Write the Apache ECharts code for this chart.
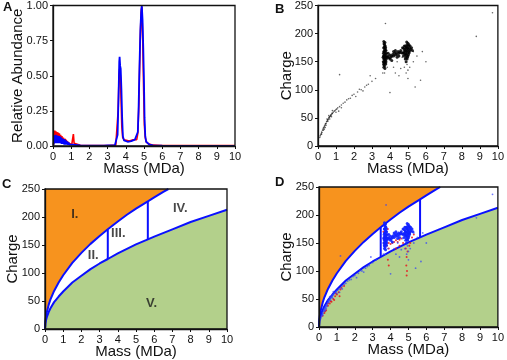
<!DOCTYPE html>
<html><head><meta charset="utf-8">
<script src="https://cdn.jsdelivr.net/npm/echarts@6/dist/echarts.min.js"></script>
<style>html,body{margin:0;padding:0;background:#fff}#c{width:507px;height:360px}</style>
</head><body><div id="c"></div>
<script>
// ---------- DATA ----------
const massTicks = [0,1,2,3,4,5,6,7,8,9,10];
const abundanceTickLabels = ['0.00','0.25','0.50','0.75','1.00'];
const chargeTicks = [0,50,100,150,200,250];

// Panel A: mass spectra (mass MDa, relative abundance)
const spectrumRed = [
 [0.03,0.01],[0.06,0.03],[0.1,0.11],[0.13,0.05],[0.16,0.105],[0.19,0.06],[0.22,0.1],[0.25,0.05],[0.28,0.095],[0.31,0.04],
 [0.35,0.09],[0.38,0.04],[0.42,0.08],[0.45,0.03],[0.49,0.07],[0.53,0.03],[0.57,0.06],[0.61,0.02],[0.65,0.05],[0.7,0.04],
 [0.75,0.035],[0.8,0.03],[0.88,0.02],[0.95,0.01],[1.03,0.01],[1.08,0.02],[1.12,0.085],[1.16,0.02],[1.22,0.006],[1.5,0.005],
 [2.0,0.004],[2.5,0.004],[3.0,0.004],[3.45,0.006],[3.52,0.02],[3.58,0.25],[3.63,0.5],[3.66,0.55],[3.7,0.5],[3.74,0.33],
 [3.78,0.14],[3.83,0.06],[3.9,0.045],[4.0,0.04],[4.2,0.035],[4.4,0.045],[4.6,0.045],[4.66,0.09],[4.72,0.3],[4.78,0.7],
 [4.84,0.95],[4.88,0.99],[4.93,0.75],[4.98,0.4],[5.02,0.15],[5.07,0.06],[5.12,0.03],[5.25,0.015],[5.5,0.006],[6.0,0.004],
 [7.0,0.003],[8.0,0.003],[9.0,0.003],[10.0,0.003]
];
const spectrumBlue = [
 [0.03,0.01],[0.07,0.05],[0.1,0.075],[0.12,0.02],[0.15,0.08],[0.17,0.03],[0.2,0.075],[0.22,0.02],[0.25,0.075],[0.27,0.03],
 [0.3,0.07],[0.32,0.02],[0.35,0.07],[0.37,0.02],[0.4,0.065],[0.42,0.02],[0.45,0.06],[0.47,0.015],[0.5,0.055],[0.52,0.015],
 [0.55,0.05],[0.57,0.015],[0.6,0.05],[0.62,0.01],[0.65,0.045],[0.67,0.01],[0.7,0.04],[0.72,0.01],[0.75,0.035],[0.78,0.01],
 [0.8,0.03],[0.83,0.008],[0.86,0.025],[0.9,0.01],[0.95,0.012],[1.0,0.006],[1.1,0.01],[1.2,0.005],[1.5,0.004],[2.0,0.003],
 [2.1,0.008],[2.2,0.003],[2.8,0.003],[3.0,0.005],[3.4,0.005],[3.5,0.01],[3.55,0.08],[3.6,0.35],[3.64,0.6],[3.66,0.635],
 [3.69,0.57],[3.72,0.55],[3.76,0.4],[3.8,0.2],[3.84,0.07],[3.9,0.04],[4.0,0.035],[4.1,0.03],[4.2,0.03],[4.3,0.035],
 [4.4,0.045],[4.5,0.045],[4.6,0.045],[4.66,0.1],[4.7,0.25],[4.74,0.5],[4.8,0.82],[4.85,0.97],[4.88,1.0],[4.92,0.9],
 [4.96,0.7],[5.0,0.45],[5.03,0.2],[5.07,0.07],[5.12,0.03],[5.2,0.02],[5.3,0.01],[5.5,0.004],[6.0,0.002],[10.0,0.001]
];

// Panels B/D: charge vs mass, dense clusters
const clusterPoints = [
 [3.65,145],[3.68,150],[3.72,148],[3.66,155],[3.7,158],[3.75,152],[3.68,162],[3.73,165],[3.66,168],[3.71,172],
 [3.76,160],[3.64,160],[3.69,176],[3.74,178],[3.67,182],[3.72,184],[3.78,170],[3.63,150],[3.7,143],[3.77,146],
 [3.65,175],[3.8,155],[3.8,165],[3.82,158],[3.66,140],[3.72,138],[3.69,168],[3.74,170],[3.7,153],[3.67,147],
 [3.76,175],[3.64,165],[3.71,160],[3.75,163],[3.68,157],[3.73,156],[3.62,158],[3.78,150],[3.7,180],[3.66,186],
 [3.85,158],[3.9,160],[3.95,157],[4.0,162],[4.05,158],[4.1,160],[4.15,163],[4.2,160],[4.25,165],[4.3,162],
 [4.35,166],[4.4,163],[4.45,168],[4.5,165],[4.55,167],[4.6,170],[4.65,166],[4.0,155],[4.2,168],[4.4,158],
 [3.9,165],[4.3,170],[4.5,160],[4.1,152],
 [4.75,160],[4.8,165],[4.85,170],[4.9,175],[4.95,180],[5.0,172],[5.05,168],[4.88,158],[4.92,162],[4.97,166],
 [5.02,178],[5.08,175],[4.82,172],[4.78,168],[4.86,178],[4.93,185],[5.0,183],[5.1,170],[5.12,178],[4.95,155],
 [5.0,160],[4.85,155],[4.9,168],[4.98,174],[5.05,180],[4.8,178],[4.72,165],[4.7,175],[5.15,172],[4.95,170],
 [4.88,164],[5.03,163],[4.92,176],[4.84,162],[4.97,158],[5.07,166],[4.76,174],[4.9,150],[5.2,175],[5.25,170]
];
const sparsePoints = [
 [0.1,15],[0.12,18],[0.15,20],[0.18,22],[0.2,25],[0.22,24],[0.25,28],[0.28,30],[0.3,32],[0.33,33],
 [0.35,35],[0.38,36],[0.4,38],[0.42,40],[0.45,40],[0.48,43],[0.5,44],[0.53,46],[0.55,47],[0.58,48],
 [0.6,50],[0.63,51],[0.65,52],[0.68,53],[0.7,55],[0.72,54],[0.75,56],[0.78,58],[0.8,58],[0.85,60],
 [0.9,62],[0.95,63],[1.0,65],[1.05,66],[1.1,68],[1.2,70],[1.3,73],[1.4,76],[1.5,78],[1.6,82],
 [1.7,84],[1.8,85],[1.9,90],[2.0,92],[2.2,96],[2.4,100],[2.6,105],[2.8,110],[3.0,115],[2.9,125],
 [1.2,127],[0.35,30],[0.45,37],[0.55,44],[0.65,48],[0.75,52],[0.5,48],[0.3,28],[0.2,21],[0.6,54],
 [0.8,63],[0.4,33],[1.0,60],[1.15,62],[1.3,68],[2.1,88],[2.5,98],[2.3,101],[3.2,120],[2.7,108],
 [3.7,130],[3.85,140],[4.0,95],[4.3,130],[4.5,125],[4.6,138],[4.8,140],[4.9,130],[5.0,120],[4.95,145],
 [5.0,135],[5.1,140],[5.3,150],[5.5,160],[5.8,168],[5.7,117],[6.0,150],[3.75,218],[4.2,140],[4.4,150],
 [3.6,130],[8.8,195],[9.7,237],[5.4,105],[5.3,168],[4.68,158]
];
const redPointsD = [
 [3.62,150],[3.8,145],[3.9,150],[4.0,148],[4.1,150],[4.2,152],[4.3,155],[4.4,152],[4.5,156],[4.6,158],
 [4.7,150],[5.1,150],[5.2,160],[5.3,165],[3.85,175],[3.6,170],[3.9,140],[3.85,120],[3.9,110],[4.85,140],
 [4.9,125],[4.88,110],[4.92,100],[4.9,92],[4.95,135],[5.05,145],[4.3,140],[4.5,145],[0.2,20],[0.3,25],
 [0.4,30],[0.5,38],[0.6,42],[0.7,45],[0.8,50],[0.9,55],[1.0,58],[1.1,62],[1.15,55],[0.85,48],
 [0.95,60],[0.5,42],[0.35,28],[0.65,46],[1.2,67],[1.25,70],[1.4,73],[3.7,160],[3.75,150],[4.8,172],[5.0,165]
];

// Panels C/D: region boundaries (mass MDa, charge)
const upperBoundary = [
 [0,0],[0.02,14],[0.05,21],[0.1,30],[0.2,43],[0.3,53],[0.5,68],[0.75,83],[1,96],[1.5,118],
 [2,136],[2.5,152],[3,166],[3.45,178],[4,192],[4.5,204],[5,215],[5.65,228],[6,235],[6.5,245],[6.78,250]
];
const lowerBoundary = [
 [0,0],[0.02,10],[0.05,15],[0.1,21],[0.2,30],[0.3,37],[0.5,48],[0.75,58],[1,67],[1.5,83],
 [2,95],[2.5,107],[3,117],[3.45,125],[4,135],[4.5,143],[5,151],[5.65,160],[6,165],[7,178],
 [8,191],[9,202],[10,213]
];
const dividerA = [[3.45,125],[3.45,178]];
const dividerB = [[5.65,160],[5.65,228]];
const regionLabels = [
 {name:'I.', value:[1.64,204]},{name:'II.', value:[2.65,132]},{name:'III.', value:[4.03,171]},
 {name:'IV.', value:[7.43,215]},{name:'V.', value:[5.86,46]}
];

// ---------- CHART ----------
const FF = 'Liberation Sans, Arial, sans-serif';
const INK = '#111';
const ORANGE = '#f7931e';
const GREEN = '#b3d08b';
const BLUE = '#0a10ff';

const grids = [
 {left:53, top:5, width:182, height:141},
 {left:318, top:5, width:183, height:141},
 {left:45, top:189, width:182, height:140},
 {left:319, top:187, width:182, height:140}
].map(g => Object.assign(g, {show:true, borderColor:INK, borderWidth:1.3, backgroundColor:'transparent', z:10}));

function xAx(gi){
  return {type:'value', gridIndex:gi, min:massTicks[0], max:massTicks[massTicks.length-1], interval:1,
    name:'Mass (MDa)', nameLocation:'middle', nameGap:15, nameMoveOverlap:false,
    nameTextStyle:{fontSize:15, color:INK, fontFamily:FF},
    axisLine:{show:true, onZero:false, lineStyle:{color:INK, width:1.3}},
    axisTick:{show:true, length:3, lineStyle:{color:INK}},
    axisLabel:{fontSize:11, color:INK, fontFamily:FF, margin:5},
    splitLine:{show:false}, z:10};
}
function yAx(gi, opts){
  return Object.assign({type:'value', gridIndex:gi, nameLocation:'middle', nameMoveOverlap:false,
    nameTextStyle:{fontSize:15, color:INK, fontFamily:FF},
    axisLine:{show:true, onZero:false, lineStyle:{color:INK, width:1.3}},
    axisTick:{show:true, length:3, lineStyle:{color:INK}},
    axisLabel:{fontSize:11, color:INK, fontFamily:FF, margin:5},
    splitLine:{show:false}, z:10}, opts);
}
const chargeAxis = (gi, gap) => yAx(gi, {min:chargeTicks[0], max:chargeTicks[chargeTicks.length-1], interval:50, name:'Charge', nameGap:gap});

function regionSeries(gi){
  return [
    {type:'line', xAxisIndex:gi, yAxisIndex:gi, data:upperBoundary, showSymbol:false, smooth:false,
     lineStyle:{color:BLUE, width:2}, areaStyle:{color:ORANGE, opacity:1, origin:'end'}, z:2},
    {type:'line', xAxisIndex:gi, yAxisIndex:gi, data:lowerBoundary, showSymbol:false,
     lineStyle:{color:BLUE, width:2}, areaStyle:{color:GREEN, opacity:1, origin:'start'}, z:2},
    {type:'line', xAxisIndex:gi, yAxisIndex:gi, data:dividerA, showSymbol:false, lineStyle:{color:BLUE, width:2}, z:6},
    {type:'line', xAxisIndex:gi, yAxisIndex:gi, data:dividerB, showSymbol:false, lineStyle:{color:BLUE, width:2}, z:6}
  ];
}

const series = [
  {type:'line', xAxisIndex:0, yAxisIndex:0, data:spectrumRed, showSymbol:false, lineStyle:{color:'#ff0000', width:1.6}},
  {type:'line', xAxisIndex:0, yAxisIndex:0, data:spectrumBlue, showSymbol:false, lineStyle:{color:'#0000ff', width:1.8}},
  {type:'scatter', xAxisIndex:1, yAxisIndex:1, data:clusterPoints, symbolSize:3, itemStyle:{color:'#000', opacity:0.85}},
  {type:'scatter', xAxisIndex:1, yAxisIndex:1, data:sparsePoints, symbolSize:1.6, itemStyle:{color:'#000', opacity:0.6}},
  ...regionSeries(2),
  {type:'scatter', xAxisIndex:2, yAxisIndex:2, data:regionLabels, symbolSize:0, z:8,
   label:{show:true, position:'inside', formatter:'{b}', fontSize:13, fontWeight:'bold', color:'#1a1a1a', fontFamily:FF}},
  ...regionSeries(3),
  {type:'scatter', xAxisIndex:3, yAxisIndex:3, data:redPointsD, symbolSize:2, itemStyle:{color:'#e8141c', opacity:0.85}, z:4},
  {type:'scatter', xAxisIndex:3, yAxisIndex:3, data:clusterPoints, symbolSize:3, itemStyle:{color:'#1020ff', opacity:0.9}, z:5},
  {type:'scatter', xAxisIndex:3, yAxisIndex:3, data:sparsePoints, symbolSize:1.8, itemStyle:{color:'#3040ff', opacity:0.7}, z:5}
];

const letter = (t, x, y) => ({type:'text', left:x, top:y, z:20, style:{text:t, font:'bold 13px '+FF, fill:INK}});

const chart = echarts.init(document.getElementById('c'), null, {renderer:'canvas'});
chart.setOption({
  animation:false,
  backgroundColor:'#fff',
  grid:grids,
  xAxis:[xAx(0), xAx(1), xAx(2), xAx(3)],
  yAxis:[
    yAx(0, {min:0, max:1, interval:0.25, name:'Relative Abundance', nameGap:28,
      axisLabel:{fontSize:11, color:INK, fontFamily:FF, margin:5, formatter:(v)=>abundanceTickLabels[Math.round(v*4)]}}),
    chargeAxis(1, 24), chargeAxis(2, 25), chargeAxis(3, 25)
  ],
  series:series,
  graphic:[letter('A',3,1), letter('B',275,3), letter('C',2,178), letter('D',275,176)]
});
</script></body></html>
